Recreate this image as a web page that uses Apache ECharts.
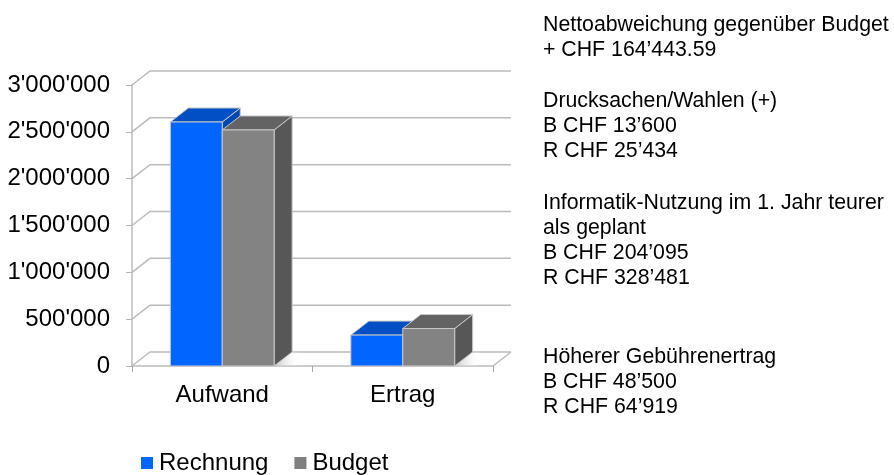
<!DOCTYPE html>
<html><head><meta charset="utf-8">
<script src="https://cdn.jsdelivr.net/npm/echarts@6/dist/echarts.min.js"></script>
<style>html,body{margin:0;padding:0;background:#fff}#c{width:894px;height:475px}</style></head>
<body><div id="c"></div>
<script>
const categories = ['Aufwand', 'Ertrag'];
const rechnung = [2605000, 330000];
const budget = [2520000, 400000];
const yTicks = [0, 500000, 1000000, 1500000, 2000000, 2500000, 3000000];
const notes = [
  'Nettoabweichung gegenüber Budget\n+ CHF 164’443.59',
  'Drucksachen/Wahlen (+)\nB CHF 13’600\nR CHF 25’434',
  'Informatik-Nutzung im 1. Jahr teurer\nals geplant\nB CHF 204’095\nR CHF 328’481',
  'Höherer Gebührenertrag\nB CHF 48’500\nR CHF 64’919'
];
const noteTops = [13, 89, 191, 345];
const font = '"Liberation Sans", Arial, sans-serif';
const DX = 18, DY = -14, BAR_RATIO = 0.2875;

function wall(params, api) {
  const p = api.coord([0, api.value(0)]);
  const s = api.size([1, 0])[0];
  const xL = p[0] - s / 2, xR = xL + s * categories.length, y = p[1];
  const line = {stroke: '#bcbcbc', lineWidth: 1.5, fill: null};
  const children = [{type: 'polyline', shape: {points: [[xL, y], [xL + DX, y + DY], [xR + DX, y + DY]]}, style: line}];
  if (api.value(0) === 0) {
    children.push({type: 'polyline', shape: {points: [[xR, y], [xR + DX, y + DY]]}, style: line});
  }
  return {type: 'group', children};
}
function bar3d(offset, front, top, side) {
  return function (params, api) {
    const base = api.coord([api.value(0), 0]);
    const tip = api.coord([api.value(0), api.value(1)]);
    const s = api.size([1, 0])[0];
    const w = s * BAR_RATIO;
    const x0 = base[0] + offset * w, x1 = x0 + w, y0 = base[1], y1 = tip[1];
    const edge = {stroke: '#c9c9c9', lineWidth: 1, lineJoin: 'round'};
    return {type: 'group', children: [
      {type: 'polygon', shape: {points: [[x1, y0], [x1 + 26, y0], [x1 + DX + 8, y0 + DY], [x1 + DX, y0 + DY]]},
        style: {fill: {type: 'linear', x: 0, y: 0, x2: 1, y2: 0, colorStops: [{offset: 0, color: '#c4c4c4'}, {offset: 1, color: 'rgba(255,255,255,0)'}]}}},
      {type: 'polygon', shape: {points: [[x1, y0], [x1 + DX, y0 + DY], [x1 + DX, y1 + DY], [x1, y1]]}, style: {fill: side, ...edge}},
      {type: 'polygon', shape: {points: [[x0, y1], [x0 + DX, y1 + DY], [x1 + DX, y1 + DY], [x1, y1]]}, style: {fill: top, ...edge}},
      {type: 'rect', shape: {x: x0, y: y1, width: w, height: y0 - y1}, style: {fill: front, ...edge}}
    ]};
  };
}
const chart = echarts.init(document.getElementById('c'), null, {renderer: 'canvas'});
chart.setOption({
  animation: false,
  backgroundColor: '#fff',
  textStyle: {fontFamily: font},
  grid: {left: 132, right: 401, top: 85, bottom: 109, containLabel: false},
  legend: {
    data: ['Rechnung', 'Budget'], left: 141, top: 451, padding: 0, icon: 'rect', itemWidth: 12, itemHeight: 12,
    itemGap: 26, textStyle: {fontFamily: font, fontSize: 24, color: '#000', padding: [0, 0, 0, 1]}
  },
  xAxis: {
    type: 'category', data: categories, boundaryGap: true,
    axisLine: {lineStyle: {color: '#bcbcbc', width: 1.5}},
    axisTick: {show: true, length: 6, alignWithLabel: false, lineStyle: {color: '#a8a8a8'}},
    axisLabel: {fontSize: 24, color: '#000', margin: 17, fontFamily: font},
    splitLine: {show: false}
  },
  yAxis: {
    type: 'value', min: yTicks[0], max: yTicks[yTicks.length - 1], interval: 500000,
    axisLine: {show: true, lineStyle: {color: '#bcbcbc', width: 1.5}},
    axisTick: {show: true, length: 6, lineStyle: {color: '#b4b4b4'}},
    splitLine: {show: false},
    axisLabel: {fontSize: 24, color: '#000', margin: 22, padding: [2, 0, 0, 0], fontFamily: font,
      formatter: v => String(v).replace(/\B(?=(\d{3})+$)/g, "'")}
  },
  series: [
    {type: 'custom', name: 'wall', coordinateSystem: 'cartesian2d', clip: false, silent: true, z: 1,
      data: yTicks.map(v => [v]), encode: {y: 0}, renderItem: wall},
    {type: 'custom', name: 'Rechnung', coordinateSystem: 'cartesian2d', clip: false, z: 2,
      itemStyle: {color: '#0066ff'}, encode: {x: 0, y: 1},
      data: rechnung.map((v, i) => [i, v]), renderItem: bar3d(-1, '#0066ff', '#004fc4', '#0048b4')},
    {type: 'custom', name: 'Budget', coordinateSystem: 'cartesian2d', clip: false, z: 3,
      itemStyle: {color: '#808080'}, encode: {x: 0, y: 1},
      data: budget.map((v, i) => [i, v]), renderItem: bar3d(0, '#838383', '#636363', '#575757')}
  ],
  graphic: notes.map((t, i) => ({
    type: 'text', left: 543, top: noteTops[i], z: 10,
    style: {text: t, fontFamily: font, fontSize: 21.3, lineHeight: 25, fill: '#000'}
  }))
});
</script></body></html>
